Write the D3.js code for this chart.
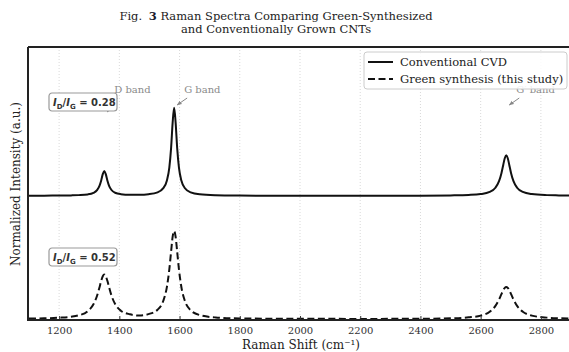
<!DOCTYPE html>
<html>
<head>
<meta charset="utf-8">
<script src="https://cdn.jsdelivr.net/npm/d3@7"></script>
<style>
  html, body { margin: 0; padding: 0; background: #fff; }
  svg { display: block; }
</style>
</head>
<body>
<div id="chart"></div>
<script>
// Raman shift sample positions (cm^-1)
const shift = [
  1100, 1150, 1200, 1240,
  1265, 1295, 1314, 1326, 1334, 1340, 1345, 1350, 1355, 1360, 1366, 1374, 1386, 1405, 1435,
  1466,
  1497, 1527, 1546, 1558, 1566, 1572, 1577, 1582, 1587, 1592, 1598, 1606, 1618, 1637, 1667,
  1720, 1800, 1900, 2000, 2100, 2200, 2300, 2400, 2500, 2560,
  2600, 2630, 2649, 2661, 2669, 2675, 2680, 2685, 2690, 2695, 2701, 2709, 2721, 2740, 2770,
  2820, 2860, 2900,
];

// conventional CVD, normalized to G (plotted with a vertical offset)
const cvdIntensity = [
  0.001, 0.002, 0.003, 0.005,
  0.008, 0.016, 0.034, 0.065, 0.113, 0.178, 0.246, 0.282, 0.246, 0.178, 0.114, 0.066, 0.035, 0.019, 0.012,
  0.0125,
  0.019, 0.040, 0.087, 0.175, 0.321, 0.548, 0.829, 1.0, 0.829, 0.548, 0.321, 0.174, 0.086, 0.039, 0.017,
  0.007, 0.003, 0.0015, 0.001, 0.001, 0.001, 0.0015, 0.002, 0.005, 0.010,
  0.020, 0.044, 0.092, 0.166, 0.257, 0.351, 0.427, 0.46, 0.427, 0.351, 0.257, 0.166, 0.092, 0.044, 0.020,
  0.008, 0.005, 0.003,
];

// green synthesis (this study)
const greenIntensity = [
  0.006, 0.009, 0.016, 0.027,
  0.043, 0.090, 0.168, 0.265, 0.360, 0.437, 0.487, 0.506, 0.487, 0.438, 0.362, 0.267, 0.171, 0.096, 0.055,
  0.040,
  0.057, 0.107, 0.208, 0.367, 0.565, 0.770, 0.934, 1.0, 0.934, 0.769, 0.564, 0.365, 0.204, 0.100, 0.046,
  0.019, 0.008, 0.005, 0.003, 0.003, 0.002, 0.003, 0.004, 0.009, 0.020,
  0.040, 0.084, 0.150, 0.223, 0.284, 0.329, 0.355, 0.365, 0.355, 0.329, 0.284, 0.223, 0.150, 0.084, 0.040,
  0.017, 0.010, 0.007,
];

const cvdOffset = 1.4;
const xTicks = [1200, 1400, 1600, 1800, 2000, 2200, 2400, 2600, 2800];

const seriesNames = ["Conventional CVD", "Green synthesis (this study)"];
const bandLabels = ["D band", "G band", "G\u2032 band"];
const bandShift = [1350, 1582, 2685];
const ratioLabels = ["0.28", "0.52"];

const width = 569, height = 352;
const margin = { top: 47, right: -2, bottom: 32, left: 29 };

const svg = d3.select("#chart").append("svg")
  .attr("width", width)
  .attr("height", height)
  .style("font-family", "'DejaVu Serif', serif");

const x = d3.scaleLinear().domain([1100, 2900]).range([margin.left, width - margin.right]);
const y = d3.scaleLinear().domain([-0.01, 3.09]).range([height - margin.bottom, margin.top]);

// dotted vertical grid
svg.append("g")
  .selectAll("line")
  .data(xTicks)
  .join("line")
  .attr("x1", d => x(d)).attr("x2", d => x(d))
  .attr("y1", margin.top).attr("y2", height - margin.bottom)
  .attr("stroke", "#cfcfcf")
  .attr("stroke-width", 0.8)
  .attr("stroke-dasharray", "1,2");

const line = d3.line().curve(d3.curveMonotoneX);

const cvdPts = shift.map((s, i) => [x(s), y(cvdIntensity[i] + cvdOffset)]);
const greenPts = shift.map((s, i) => [x(s), y(greenIntensity[i])]);

svg.append("path")
  .attr("d", line(cvdPts))
  .attr("fill", "none")
  .attr("stroke", "#111")
  .attr("stroke-width", 2);

svg.append("path")
  .attr("d", line(greenPts))
  .attr("fill", "none")
  .attr("stroke", "#111")
  .attr("stroke-width", 2)
  .attr("stroke-dasharray", "7,3.5");

// x axis (ticks inside)
const xAxis = svg.append("g")
  .attr("transform", `translate(0,${height - margin.bottom})`)
  .call(d3.axisBottom(x).tickValues(xTicks).tickSize(-4).tickPadding(7).tickFormat(d3.format("d")));
xAxis.select(".domain").remove();
xAxis.selectAll("line").attr("stroke", "#333").attr("stroke-width", 1);
xAxis.selectAll("text")
  .attr("fill", "#333")
  .style("font-family", "'DejaVu Serif', serif")
  .style("font-size", "10px");

// spines
const spine = svg.append("g").attr("stroke", "#222").attr("stroke-width", 2).attr("fill", "none");
spine.append("line").attr("x1", margin.left - 1).attr("x2", width).attr("y1", margin.top).attr("y2", margin.top);
spine.append("line").attr("x1", margin.left - 1).attr("x2", width).attr("y1", height - margin.bottom).attr("y2", height - margin.bottom);
spine.append("line").attr("x1", margin.left - 1).attr("x2", margin.left - 1).attr("y1", margin.top).attr("y2", height - margin.bottom + 1);

// band annotations
const annot = svg.append("g");
annot.append("defs").append("marker")
  .attr("id", "arr")
  .attr("viewBox", "0 0 10 10")
  .attr("refX", 9).attr("refY", 5)
  .attr("markerWidth", 5).attr("markerHeight", 5)
  .attr("orient", "auto")
  .append("path").attr("d", "M0,1 L10,5 L0,9 Z").attr("fill", "#888");

bandLabels.forEach((lab, i) => {
  const bx = x(bandShift[i]);
  annot.append("text")
    .attr("x", bx + 10)
    .attr("y", 93)
    .attr("fill", "#8a8a8a")
    .style("font-size", "10px")
    .text(lab);
  annot.append("line")
    .attr("x1", bx + 13).attr("y1", 98)
    .attr("x2", bx + 3).attr("y2", 105 + (i === 0 ? 7 : 0))
    .attr("stroke", "#888")
    .attr("stroke-width", 1)
    .attr("marker-end", "url(#arr)");
});

// legend
const lg = svg.append("g").attr("transform", "translate(364,52)");
lg.append("rect")
  .attr("width", 203).attr("height", 37)
  .attr("rx", 3)
  .attr("fill", "#fff").attr("fill-opacity", 0.85)
  .attr("stroke", "#ccc");
seriesNames.forEach((name, i) => {
  const ly = 10 + i * 17;
  lg.append("line")
    .attr("x1", 4).attr("x2", 29)
    .attr("y1", ly).attr("y2", ly)
    .attr("stroke", "#111").attr("stroke-width", 2)
    .attr("stroke-dasharray", i === 1 ? "7,3.5" : null);
  lg.append("text")
    .attr("x", 36).attr("y", ly + 4)
    .attr("fill", "#222")
    .style("font-size", "11.5px")
    .text(name);
});

// I_D/I_G boxes
function ratioBox(val, cy) {
  const g = svg.append("g").attr("transform", `translate(49,${cy - 9})`);
  g.append("rect")
    .attr("width", 68).attr("height", 18)
    .attr("rx", 3)
    .attr("fill", "#fff")
    .attr("stroke", "#999").attr("stroke-width", 1.2);
  const t = g.append("text")
    .attr("x", 4).attr("y", 13)
    .attr("fill", "#333")
    .style("font-family", "'DejaVu Sans', sans-serif")
    .style("font-size", "10px")
    .style("font-weight", "bold");
  t.append("tspan").style("font-style", "italic").text("I");
  t.append("tspan").attr("dy", 2.5).style("font-size", "7px").text("D");
  t.append("tspan").attr("dy", -2.5).text("/");
  t.append("tspan").style("font-style", "italic").text("I");
  t.append("tspan").attr("dy", 2.5).style("font-size", "7px").text("G");
  t.append("tspan").attr("dy", -2.5).text(" = " + val);
}
ratioBox(ratioLabels[0], 102);
ratioBox(ratioLabels[1], 257);

// axis labels
svg.append("text")
  .attr("x", 301).attr("y", 349)
  .attr("text-anchor", "middle")
  .attr("fill", "#222")
  .style("font-size", "12px")
  .text("Raman Shift (cm\u207B\u00B9)");

svg.append("text")
  .attr("transform", "translate(20,184) rotate(-90)")
  .attr("text-anchor", "middle")
  .attr("fill", "#222")
  .style("font-size", "12px")
  .text("Normalized Intensity (a.u.)");

// title
const title = svg.append("text")
  .attr("x", 276).attr("y", 20)
  .attr("text-anchor", "middle")
  .attr("fill", "#222")
  .style("font-size", "11.5px");
title.append("tspan").text("Fig. ");
title.append("tspan").attr("dx", 3).style("font-weight", "bold").attr("fill", "#1a1a2e").text("3");
title.append("tspan").text(" Raman Spectra Comparing Green-Synthesized");
svg.append("text")
  .attr("x", 276).attr("y", 33)
  .attr("text-anchor", "middle")
  .attr("fill", "#222")
  .style("font-size", "11.5px")
  .text("and Conventionally Grown CNTs");
</script>
</body>
</html>
